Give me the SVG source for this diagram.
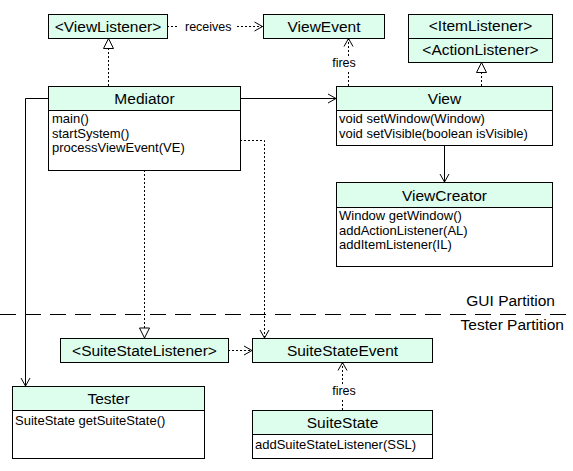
<svg xmlns="http://www.w3.org/2000/svg" width="573" height="471" viewBox="0 0 573 471">
<style>
  .box { fill: #ffffff; stroke: #000000; stroke-width: 1; }
  .hdr { fill: #ddfded; stroke: #000000; stroke-width: 1; }
  .t { font-family: "Liberation Sans", Arial, sans-serif; fill: #000000; }
  .h { font-size: 15.5px; text-anchor: middle; }
  .m { font-size: 13px; }
  .lbl { font-size: 12.5px; }
  .solid { fill: none; stroke: #000000; stroke-width: 1; }
  .dot { fill: none; stroke: #000000; stroke-width: 1; stroke-dasharray: 2 2; }
  .part { fill: none; stroke: #000000; stroke-width: 1; stroke-dasharray: 16 9; }
</style>
<defs>
  <marker id="open" markerUnits="userSpaceOnUse" markerWidth="12" markerHeight="12" viewBox="-10 -6 12 12" refX="0" refY="0" orient="auto">
    <path d="M-8,-4.5 L0,0 L-8,4.5" fill="none" stroke="#000" stroke-width="1" stroke-dasharray="none"/>
  </marker>
  <marker id="tri" markerUnits="userSpaceOnUse" markerWidth="14" markerHeight="14" viewBox="-12 -7 14 14" refX="0" refY="0" orient="auto">
    <path d="M-10,-5 L0,0 L-10,5 Z" fill="#fff" stroke="#000" stroke-width="1" stroke-dasharray="none"/>
  </marker>
</defs>
<rect width="573" height="471" fill="#ffffff"/>

<g id="connectors">
  <!-- partition line -->
  <line class="part" x1="0" y1="314.5" x2="573" y2="314.5"/>
  <!-- ViewListener receives ViewEvent -->
  <line class="dot" x1="167" y1="26.5" x2="179" y2="26.5"/>
  <line class="dot" x1="237" y1="26.5" x2="262.5" y2="26.5" marker-end="url(#open)"/>
  <text class="t lbl" x="185" y="31">receives</text>
  <!-- Mediator realizes ViewListener -->
  <line class="dot" x1="108.5" y1="86" x2="108.5" y2="38.5" marker-end="url(#tri)"/>
  <!-- View fires ViewEvent -->
  <line class="dot" x1="348.5" y1="86" x2="348.5" y2="70"/>
  <line class="dot" x1="348.5" y1="56" x2="348.5" y2="38.5" marker-end="url(#open)"/>
  <text class="t lbl" x="344" y="67" text-anchor="middle">fires</text>
  <!-- View realizes listeners -->
  <line class="dot" x1="481.5" y1="86" x2="481.5" y2="62.5" marker-end="url(#tri)"/>
  <!-- Mediator -> View -->
  <line class="solid" x1="240" y1="98.5" x2="336" y2="98.5" marker-end="url(#open)"/>
  <!-- Mediator -> Tester -->
  <polyline class="solid" points="48,98.5 25.5,98.5 25.5,386" marker-end="url(#open)"/>
  <!-- View -> ViewCreator -->
  <line class="solid" x1="444.5" y1="145" x2="444.5" y2="182" marker-end="url(#open)"/>
  <!-- Mediator realizes SuiteStateListener -->
  <line class="dot" x1="144.5" y1="170" x2="144.5" y2="338" marker-end="url(#tri)"/>
  <!-- Mediator depends on SuiteStateEvent -->
  <polyline class="dot" points="240,140.5 264.5,140.5 264.5,338" marker-end="url(#open)"/>
  <!-- SuiteStateListener -> SuiteStateEvent -->
  <line class="dot" x1="228" y1="350.5" x2="252" y2="350.5" marker-end="url(#open)"/>
  <!-- SuiteState fires SuiteStateEvent -->
  <line class="dot" x1="342.5" y1="410" x2="342.5" y2="398"/>
  <line class="dot" x1="342.5" y1="384" x2="342.5" y2="362.5" marker-end="url(#open)"/>
  <text class="t lbl" x="344" y="395" text-anchor="middle">fires</text>
  <!-- partition labels -->
  <text class="t" x="555" y="306" font-size="15.5" text-anchor="end">GUI Partition</text>
  <text class="t" x="564" y="330" font-size="15.5" text-anchor="end">Tester Partition</text>
</g>

<g id="ViewListener">
  <rect class="hdr" x="48.5" y="14.5" width="119" height="24"/>
  <text class="t h" x="108" y="32">&lt;ViewListener&gt;</text>
</g>

<g id="ViewEvent">
  <rect class="hdr" x="263.5" y="14.5" width="121" height="24"/>
  <text class="t h" x="324" y="32">ViewEvent</text>
</g>

<g id="Listeners">
  <rect class="hdr" x="408.5" y="14.5" width="144" height="48"/>
  <line class="solid" x1="408.5" y1="38.5" x2="552.5" y2="38.5"/>
  <text class="t h" x="480.5" y="31">&lt;ItemListener&gt;</text>
  <text class="t h" x="480.5" y="55">&lt;ActionListener&gt;</text>
</g>

<g id="Mediator">
  <rect class="box" x="48.5" y="86.5" width="192" height="84"/>
  <rect class="hdr" x="48.5" y="86.5" width="192" height="24"/>
  <text class="t h" x="144.5" y="104">Mediator</text>
  <text class="t m" x="52" y="123">main()</text>
  <text class="t m" x="52" y="137.5">startSystem()</text>
  <text class="t m" x="52" y="152">processViewEvent(VE)</text>
</g>

<g id="View">
  <rect class="box" x="336.5" y="86.5" width="216" height="59"/>
  <rect class="hdr" x="336.5" y="86.5" width="216" height="24"/>
  <text class="t h" x="444.5" y="104">View</text>
  <text class="t m" x="339" y="123">void setWindow(Window)</text>
  <text class="t m" x="339" y="137.5">void setVisible(boolean isVisible)</text>
</g>

<g id="ViewCreator">
  <rect class="box" x="336.5" y="182.5" width="216" height="84"/>
  <rect class="hdr" x="336.5" y="182.5" width="216" height="25"/>
  <text class="t h" x="444.5" y="200.5">ViewCreator</text>
  <text class="t m" x="339" y="220">Window getWindow()</text>
  <text class="t m" x="339" y="234.5">addActionListener(AL)</text>
  <text class="t m" x="339" y="249">addItemListener(IL)</text>
</g>

<g id="SuiteStateListener">
  <rect class="hdr" x="60.5" y="338.5" width="168" height="24"/>
  <text class="t h" x="144.5" y="356">&lt;SuiteStateListener&gt;</text>
</g>

<g id="SuiteStateEvent">
  <rect class="hdr" x="252.5" y="338.5" width="180" height="24"/>
  <text class="t h" x="342.5" y="356">SuiteStateEvent</text>
</g>

<g id="Tester">
  <rect class="box" x="12.5" y="386.5" width="192" height="72"/>
  <rect class="hdr" x="12.5" y="386.5" width="192" height="24"/>
  <text class="t h" x="108.5" y="404">Tester</text>
  <text class="t m" x="15" y="425">SuiteState getSuiteState()</text>
</g>

<g id="SuiteState">
  <rect class="box" x="252.5" y="410.5" width="180" height="48"/>
  <rect class="hdr" x="252.5" y="410.5" width="180" height="24"/>
  <text class="t h" x="342.5" y="428">SuiteState</text>
  <text class="t m" x="255" y="449">addSuiteStateListener(SSL)</text>
</g>
</svg>
